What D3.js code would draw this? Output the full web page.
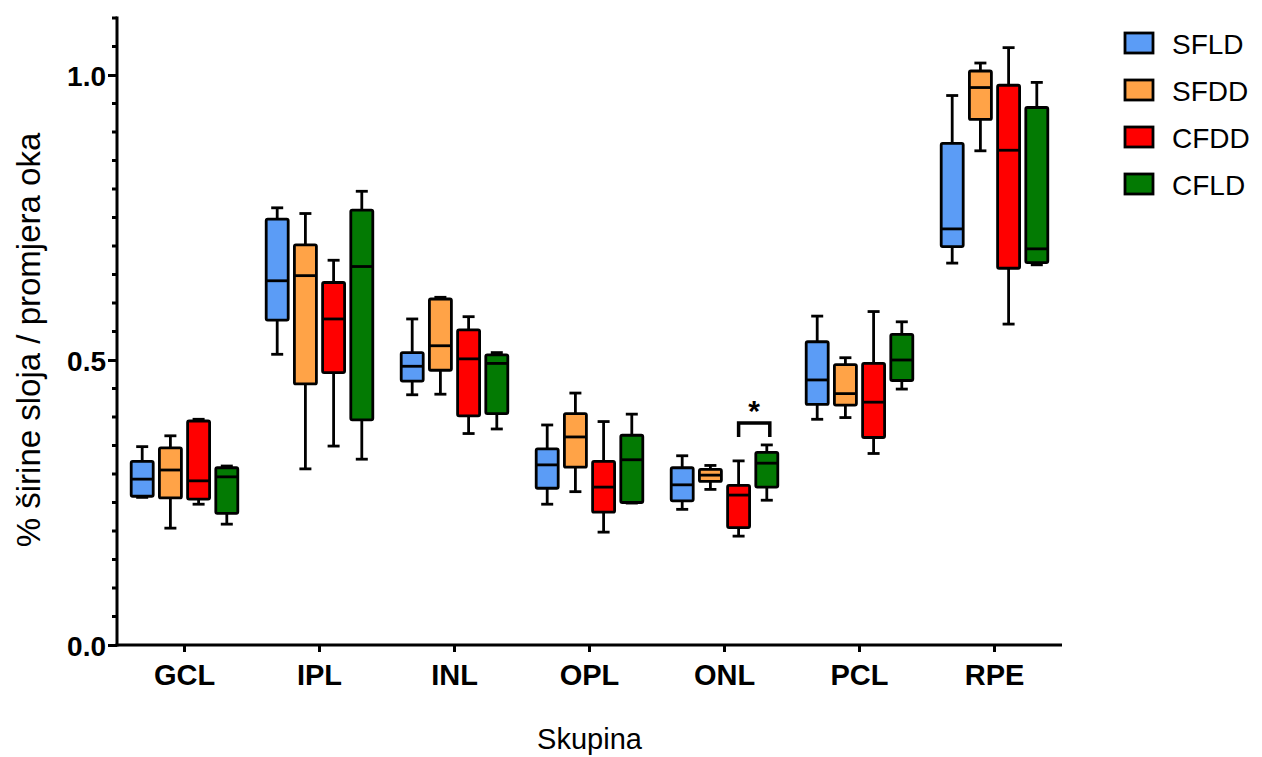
<!DOCTYPE html>
<html>
<head>
<meta charset="utf-8">
<script src="https://cdn.jsdelivr.net/npm/d3@7"></script>
<style>
  html, body { margin: 0; padding: 0; background: #fff; }
  svg { display: block; font-family: "Liberation Sans", Arial, sans-serif; }
</style>
</head>
<body>
<svg id="chart" width="1262" height="757"></svg>
<script>
// ---- data ----
const categories = ["GCL", "IPL", "INL", "OPL", "ONL", "PCL", "RPE"];
const seriesNames = ["SFLD", "SFDD", "CFDD", "CFLD"];
const seriesColors = ["#5B9CF6", "#FFA347", "#FF0000", "#037A03"];
// each entry: [whisker low, Q1, median, Q3, whisker high]
const SFLD = [
  [0.259, 0.261, 0.291, 0.322, 0.348],
  [0.510, 0.570, 0.639, 0.747, 0.767],
  [0.439, 0.463, 0.489, 0.513, 0.572],
  [0.247, 0.275, 0.316, 0.344, 0.386],
  [0.238, 0.253, 0.281, 0.311, 0.332],
  [0.396, 0.422, 0.465, 0.532, 0.577],
  [0.670, 0.699, 0.730, 0.880, 0.964]
];
const SFDD = [
  [0.205, 0.258, 0.307, 0.346, 0.367],
  [0.309, 0.458, 0.648, 0.702, 0.757],
  [0.440, 0.482, 0.525, 0.607, 0.610],
  [0.269, 0.312, 0.365, 0.406, 0.442],
  [0.273, 0.287, 0.298, 0.308, 0.315],
  [0.399, 0.421, 0.441, 0.492, 0.504],
  [0.867, 0.922, 0.978, 1.007, 1.021]
];
const CFDD = [
  [0.247, 0.256, 0.288, 0.393, 0.396],
  [0.349, 0.478, 0.572, 0.636, 0.675],
  [0.371, 0.402, 0.502, 0.553, 0.576],
  [0.198, 0.233, 0.277, 0.322, 0.392],
  [0.191, 0.206, 0.263, 0.280, 0.323],
  [0.336, 0.364, 0.426, 0.494, 0.585],
  [0.563, 0.661, 0.868, 0.982, 1.048]
];
const CFLD = [
  [0.212, 0.231, 0.295, 0.311, 0.314],
  [0.326, 0.395, 0.664, 0.763, 0.796],
  [0.379, 0.406, 0.494, 0.509, 0.513],
  [0.249, 0.250, 0.325, 0.368, 0.405],
  [0.254, 0.277, 0.319, 0.338, 0.351],
  [0.449, 0.464, 0.500, 0.545, 0.567],
  [0.667, 0.671, 0.695, 0.943, 0.987]
];
const seriesValues = [SFLD, SFDD, CFDD, CFLD];
const majorTicks = [0.0, 0.5, 1.0];
const yMax = 1.1;
const minorStep = 0.05;
const xTitle = "Skupina";
const yTitle = "% širine sloja / promjera oka";
// significance bracket: category, from series, to series, label
const significance = { category: "ONL", from: "CFDD", to: "CFLD", label: "*" };

// ---- layout ----
const svg = d3.select("#chart");
const plotLeft = 117, plotRight = 1062, plotTop = 18, plotBottom = 645;

const y = d3.scaleLinear().domain([0, yMax]).range([plotBottom, plotTop]);
const x0 = d3.scaleBand().domain(categories).range([plotLeft, plotRight]).padding(0);
const inner = 112.8;
const x1 = d3.scaleBand().domain(seriesNames)
  .range([(x0.bandwidth() - inner) / 2, (x0.bandwidth() + inner) / 2]).padding(0);
const boxW = x1.bandwidth() * 0.78;
const capW = 12;
const color = d3.scaleOrdinal().domain(seriesNames).range(seriesColors);

// ---- boxes ----
const boxes = [];
seriesNames.forEach((s, si) => {
  categories.forEach((c, ci) => {
    const v = seriesValues[si][ci];
    boxes.push({ series: s, cat: c, lo: v[0], q1: v[1], med: v[2], q3: v[3], hi: v[4] });
  });
});

const g = svg.append("g");
const bg = g.selectAll("g.box").data(boxes).join("g")
  .attr("transform", d => `translate(${x0(d.cat) + x1(d.series) + x1.bandwidth() / 2},0)`);

const sw = 2.8;
// whiskers
bg.append("line").attr("x1", 0).attr("x2", 0)
  .attr("y1", d => y(d.hi)).attr("y2", d => y(d.q3))
  .attr("stroke", "#000").attr("stroke-width", sw);
bg.append("line").attr("x1", 0).attr("x2", 0)
  .attr("y1", d => y(d.q1)).attr("y2", d => y(d.lo))
  .attr("stroke", "#000").attr("stroke-width", sw);
bg.append("line").attr("x1", -capW / 2).attr("x2", capW / 2)
  .attr("y1", d => y(d.hi)).attr("y2", d => y(d.hi))
  .attr("stroke", "#000").attr("stroke-width", sw);
bg.append("line").attr("x1", -capW / 2).attr("x2", capW / 2)
  .attr("y1", d => y(d.lo)).attr("y2", d => y(d.lo))
  .attr("stroke", "#000").attr("stroke-width", sw);
// box
bg.append("rect")
  .attr("x", -boxW / 2).attr("width", boxW)
  .attr("y", d => y(d.q3)).attr("height", d => y(d.q1) - y(d.q3))
  .attr("fill", d => color(d.series))
  .attr("stroke", "#000").attr("stroke-width", sw)
  .attr("rx", 1.5);
// median
bg.append("line").attr("x1", -boxW / 2).attr("x2", boxW / 2)
  .attr("y1", d => y(d.med)).attr("y2", d => y(d.med))
  .attr("stroke", "#000").attr("stroke-width", sw);

// ---- significance ----
{
  const ci = categories.indexOf(significance.category);
  const fi = seriesNames.indexOf(significance.from);
  const ti = seriesNames.indexOf(significance.to);
  const xa = x0(significance.category) + x1(significance.from) + x1.bandwidth() / 2;
  const xb = x0(significance.category) + x1(significance.to) + x1.bandwidth() / 2 + 3;
  const topVal = Math.max(seriesValues[fi][ci][4], seriesValues[ti][ci][4]);
  const yb = y(topVal) - 22;
  svg.append("path")
    .attr("d", `M${xa},${yb + 14}V${yb}H${xb}V${yb + 14}`)
    .attr("fill", "none").attr("stroke", "#000").attr("stroke-width", 3.5);
  svg.append("text")
    .attr("x", (xa + xb) / 2).attr("y", yb - 2)
    .attr("text-anchor", "middle")
    .attr("font-size", 30).attr("font-weight", "bold")
    .text(significance.label);
}

// ---- axes ----
const yAxis = d3.axisLeft(y).tickValues(majorTicks).tickFormat(d3.format(".1f"))
  .tickSize(9).tickPadding(2);
const ya = svg.append("g").attr("transform", `translate(${plotLeft},0)`).call(yAxis);
ya.select(".domain").remove();
ya.selectAll(".tick line").attr("stroke", "#000").attr("stroke-width", 3);
ya.selectAll(".tick text").attr("font-size", 28).attr("font-weight", "bold")
  .attr("fill", "#000").attr("font-family", "'Liberation Sans', Arial, sans-serif")
  .attr("dy", "0.36em");

const minorVals = d3.range(0, yMax + 1e-9, minorStep).map(v => +v.toFixed(2))
  .filter(v => !majorTicks.some(m => Math.abs(m - v) < 1e-6));
svg.append("g").selectAll("line").data(minorVals).join("line")
  .attr("x1", plotLeft - 5).attr("x2", plotLeft)
  .attr("y1", d => y(d)).attr("y2", d => y(d))
  .attr("stroke", "#000").attr("stroke-width", 3);

svg.append("line").attr("x1", plotLeft).attr("x2", plotLeft)
  .attr("y1", y(yMax) - 1.5).attr("y2", y(0) + 1.5)
  .attr("stroke", "#000").attr("stroke-width", 3);

const xAxis = d3.axisBottom(x0).tickSize(7).tickPadding(12);
const xa = svg.append("g").attr("transform", `translate(0,${plotBottom})`).call(xAxis);
xa.select(".domain").remove();
xa.selectAll(".tick line").attr("stroke", "#000").attr("stroke-width", 3);
xa.selectAll(".tick text").attr("font-size", 29).attr("font-weight", "bold")
  .attr("fill", "#000").attr("font-family", "'Liberation Sans', Arial, sans-serif");
svg.append("line").attr("x1", plotLeft - 1.5).attr("x2", plotRight)
  .attr("y1", plotBottom).attr("y2", plotBottom)
  .attr("stroke", "#000").attr("stroke-width", 3);

// ---- titles ----
svg.append("text")
  .attr("x", (plotLeft + plotRight) / 2).attr("y", 749)
  .attr("text-anchor", "middle").attr("font-size", 29)
  .text(xTitle);
svg.append("text")
  .attr("transform", `translate(40,${340}) rotate(-90)`)
  .attr("text-anchor", "middle").attr("font-size", 33)
  .text(yTitle);

// ---- legend ----
const lg = svg.append("g").attr("transform", "translate(1125,33)");
const items = lg.selectAll("g").data(seriesNames).join("g")
  .attr("transform", (d, i) => `translate(0,${i * 47})`);
items.append("rect").attr("x", 0).attr("y", 0).attr("width", 28).attr("height", 20)
  .attr("fill", d => color(d)).attr("stroke", "#000").attr("stroke-width", 2.8);
items.append("text").attr("x", 47).attr("y", 20.5)
  .attr("font-size", 28).text(d => d);
</script>
</body>
</html>
